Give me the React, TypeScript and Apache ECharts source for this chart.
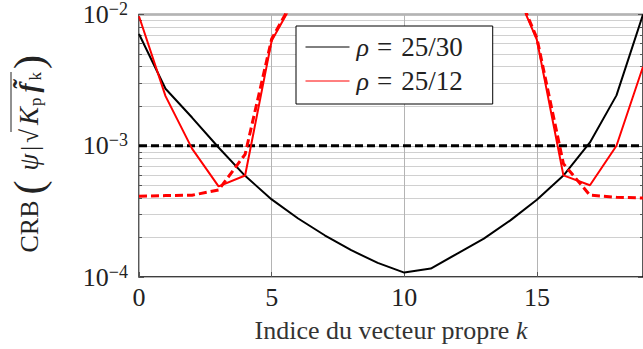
import React, { useEffect, useRef } from 'react';
import * as echarts from 'echarts';

const kIndex = [0, 1, 2, 3, 4, 5, 6, 7, 8, 9, 10, 11, 12, 13, 14, 15, 16, 17, 18, 19];
const crbRho2530 = [7.1e-3, 2.72e-3, 1.64e-3, 9.7e-4, 5.9e-4, 3.9e-4, 2.79e-4, 2.08e-4, 1.6e-4, 1.28e-4, 1.08e-4, 1.16e-4, 1.51e-4, 1.96e-4, 2.7e-4, 3.88e-4, 5.93e-4, 1.06e-3, 2.42e-3, 1.0e-2];
const crbRho2512 = [9.7e-3, 2.39e-3, 9.5e-4, 4.9e-4, 5.93e-4, 6.3e-3, 1.45e-2, null, null, null, null, null, null, null, 1.9e-2, 6.4e-3, 5.95e-4, 5.0e-4, 1.0e-3, 4.0e-3];
const crbRho2512Dashed = [4.13e-4, 4.17e-4, 4.2e-4, 4.6e-4, 8.6e-4, 6.5e-3, 1.5e-2, null, null, null, null, null, null, null, 2.0e-2, 6.6e-3, 7.3e-4, 4.2e-4, 4.05e-4, 4.0e-4];
const refLevel = 1e-3;
const seriesNames = ['ρ = 25/30', 'ρ = 25/12'];
const xTicks = [0, 5, 10, 15];
const yRange = [1e-4, 1e-2];

const FONT = "'Liberation Serif', serif";

function pairs(vals: (number | null)[]) {
  return kIndex.map((k, i) => [k, vals[i]]);
}

export default function App() {
  const ref = useRef<HTMLDivElement>(null);
  useEffect(() => {
    if (!ref.current) return;
    const chart = echarts.init(ref.current, null, { renderer: 'svg' });
    const yAxisBase = {
      type: 'log',
      logBase: 10,
      min: yRange[0],
      max: yRange[1],
    };
    const txt = (size: number, extra: object = {}) => ({ fontFamily: FONT, fontSize: size, color: '#222', ...extra });
    chart.setOption({
      animation: false,
      backgroundColor: '#fff',
      textStyle: { fontFamily: FONT },
      grid: {
        left: 137,
        top: 13,
        width: 506,
        height: 264,
        show: true,
        borderColor: '#000',
        borderWidth: 1.3,
        backgroundColor: 'transparent',
      },
      graphic: [
        {
          type: 'line',
          shape: { x1: 11, y1: 72, x2: 11, y2: 132 },
          style: { stroke: '#222', lineWidth: 1 },
          silent: true,
        },
      ],
      legend: {
        left: 296,
        top: 26,
        orient: 'vertical',
        data: [seriesNames[0], seriesNames[1]],
        backgroundColor: '#fff',
        borderColor: '#000',
        borderWidth: 1,
        borderRadius: 0,
        padding: [7, 30, 9, 9],
        itemGap: 6,
        itemWidth: 44,
        itemHeight: 10,
        lineStyle: { width: 1 },
        itemStyle: { opacity: 0 },
        formatter: (name: string) => {
          const [lhs, rhs] = name.split('=').map((s) => s.trim());
          return `{i|${lhs}}{e|=}{t|${rhs}}`;
        },
        textStyle: {
          ...txt(26),
          lineHeight: 28,
          rich: {
            i: txt(26, { fontStyle: 'italic', padding: [0, 0, 0, 2] }),
            e: txt(27, { padding: [0, 9, 0, 8] }),
            t: txt(27),
          },
        },
        inactiveColor: '#000',
      },
      xAxis: {
        type: 'value',
        min: 0,
        max: 19,
        interval: 5,
        name: '{t|Indice du vecteur propre }{i|k}',
        nameLocation: 'middle',
        nameGap: 40,
        nameTextStyle: {
          ...txt(26),
          rich: {
            t: txt(26, { color: '#333' }),
            i: txt(26, { color: '#333', fontStyle: 'italic' }),
          },
        },
        axisLine: { show: false },
        axisTick: { show: true, inside: true, length: 5, lineStyle: { color: '#555', width: 1 } },
        axisLabel: {
          ...txt(26),
          margin: 7,
          customValues: xTicks,
        },
        splitLine: { show: true, lineStyle: { color: '#b4b4b4', width: 1 } },
      },
      yAxis: [
        {
          ...yAxisBase,
          position: 'left',
          name: '{n|CRB}{p|(}{i|ψ}{v||}{r|√}{k|K}{s|p}{b|f̃}{s|k}{q|)}',
          nameLocation: 'middle',
          nameRotate: 90,
          nameGap: 90,
          nameTextStyle: {
            ...txt(24),
            lineHeight: 40,
            padding: [0, 16, 0, 0],
            rich: {
              n: txt(26, { lineHeight: 40 }),
              p: txt(42, { lineHeight: 40, padding: [0, 10, 0, 6] }),
              q: txt(42, { lineHeight: 40, padding: [0, 0, 0, 2] }),
              i: txt(27, { lineHeight: 40, fontStyle: 'italic', padding: [0, 2, 0, 0] }),
              v: txt(25, { lineHeight: 40, padding: [0, 3, 0, 1] }),
              r: txt(25, { lineHeight: 40, padding: [0, 3, 0, 0] }),
              k: txt(27, { lineHeight: 40, fontStyle: 'italic', padding: [0, 1, 0, 1] }),
              b: txt(27, { lineHeight: 40, fontStyle: 'italic', fontWeight: 'bold', padding: [0, 3, 0, 4] }),
              s: txt(17, { lineHeight: 20, padding: [12, 1, 0, 0] }),
            },
          },
          axisLine: { show: false },
          axisTick: { show: true, inside: true, length: 5, lineStyle: { color: '#555', width: 1 } },
          minorTick: { show: true, splitNumber: 9, length: 3, lineStyle: { color: '#555', width: 1 } },
          splitLine: { show: true, lineStyle: { color: '#b4b4b4', width: 1 } },
          minorSplitLine: { show: true, lineStyle: { color: '#d0d0d0', width: 1 } },
          axisLabel: {
            ...txt(26),
            margin: 11,
            formatter: (v: number) => `{b|10}{s|−${Math.round(-Math.log10(v))}}`,
            rich: {
              b: txt(26),
              s: txt(18, { padding: [0, 0, 11, 0] }),
            },
          },
        },
        {
          ...yAxisBase,
          position: 'right',
          axisLine: { show: false },
          axisLabel: { show: false },
          axisTick: { show: true, inside: true, length: 5, lineStyle: { color: '#555', width: 1 } },
          minorTick: { show: true, splitNumber: 9, length: 3, lineStyle: { color: '#555', width: 1 } },
          splitLine: { show: false },
          minorSplitLine: { show: false },
        },
      ],
      series: [
        {
          name: seriesNames[0],
          type: 'line',
          data: pairs(crbRho2530),
          symbol: 'none',
          lineStyle: { color: '#000', width: 2 },
          itemStyle: { color: '#000' },
          z: 3,
        },
        {
          name: 'reference',
          type: 'line',
          data: [
            [kIndex[0], refLevel],
            [kIndex[kIndex.length - 1], refLevel],
          ],
          symbol: 'none',
          lineStyle: { color: '#000', width: 3, type: [8, 4] },
          itemStyle: { color: '#000' },
          z: 3,
        },
        {
          name: seriesNames[1],
          type: 'line',
          data: pairs(crbRho2512),
          symbol: 'none',
          connectNulls: false,
          lineStyle: { color: '#ff0000', width: 2 },
          itemStyle: { color: '#ff0000' },
          z: 4,
        },
        {
          name: 'dashed',
          type: 'line',
          data: pairs(crbRho2512Dashed),
          symbol: 'none',
          connectNulls: false,
          lineStyle: { color: '#ff0000', width: 3, type: [8, 4] },
          itemStyle: { color: '#ff0000' },
          z: 4,
        },
      ],
    });
    return () => chart.dispose();
  }, []);
  return (
    <div
      ref={ref}
      style={{ position: 'absolute', left: 0, top: 0, width: 643, height: 349, background: '#fff' }}
    />
  );
}
